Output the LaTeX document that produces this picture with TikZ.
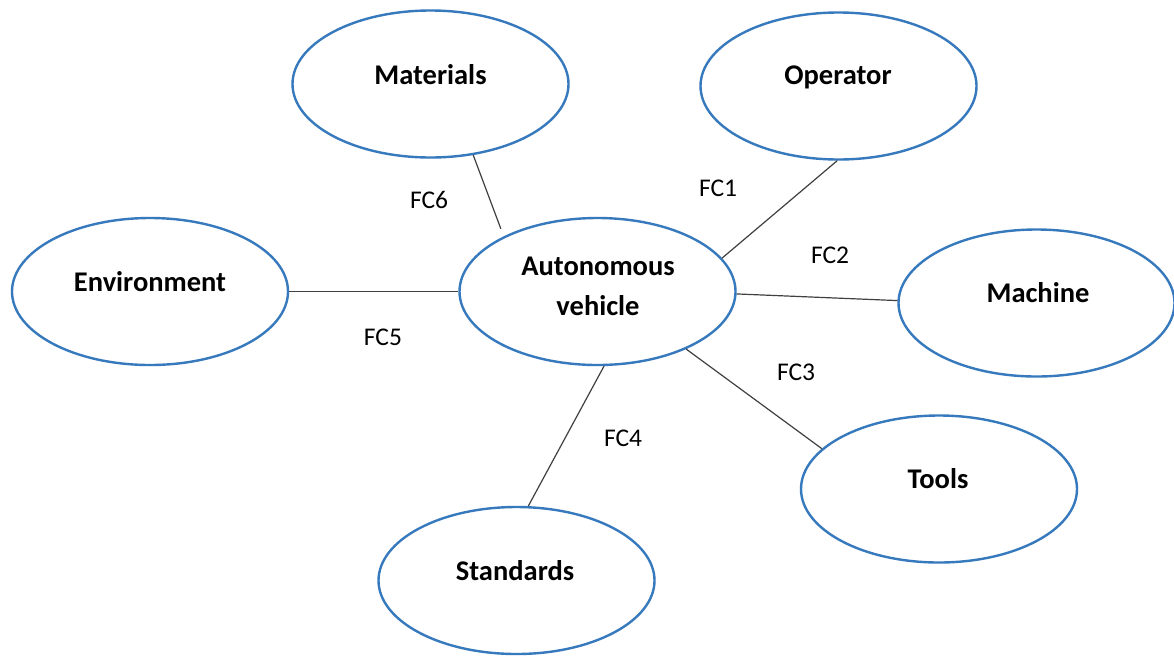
\documentclass[tikz,border=0pt]{standalone}
\usepackage{fontspec}
\setmainfont{Carlito}
\usetikzlibrary{shapes.geometric,calc}
\definecolor{ellblue}{RGB}{54,121,189}
\definecolor{connc}{RGB}{64,64,64}
\begin{document}
\begin{tikzpicture}[x=1pt,y=-1pt,
  ell/.style={ellipse,draw=ellblue,line width=2.4pt,minimum width=276pt,minimum height=147pt,inner sep=0pt},
  ttl/.style={anchor=base,font=\fontsize{28.5}{34}\selectfont\bfseries,inner sep=0pt},
  fc/.style={anchor=base,font=\fontsize{25.5}{30}\selectfont,inner sep=0pt},
  conn/.style={draw=connc,line width=1.2pt}]
\useasboundingbox (0,0) rectangle (1174,657);
\fill[white] (0,0) rectangle (1174,657);
% ellipses
\node[ell] (mat)   at (430.5,84)   {};
\node[ell] (op)    at (838.5,86)   {};
\node[ell] (env)   at (150,291.5)  {};
\node[ell] (av)    at (597.5,291.5){};
\node[ell] (mach)  at (1036.5,303) {};
\node[ell] (tools) at (939,489)    {};
\node[ell] (std)   at (516.5,580.5){};
% titles
\node[ttl] (tmat)   at (430.5,84.5){Materials};
\node[ttl] (top)    at (838,84.5)  {Operator};
\node[ttl] (tenv)   at (150,291.5) {Environment};
\node[ttl] (tav1)   at (598,275)   {Autonomous};
\node[ttl] (tav2)   at (598,315)   {vehicle};
\node[ttl] (tmach)  at (1038,302.5){Machine};
\node[ttl] (ttools) at (938,488)   {Tools};
\node[ttl] (tstd)   at (515,580)   {Standards};
% connectors
\coordinate (avmat) at ($(av.center)!1.09!(av.147.5)$);
\draw[conn] (mat.-59)  -- (avmat);
\draw[conn] (op.-91)   -- (av.15.4);
\draw[conn] (av.-1)    -- (mach.179.5);
\draw[conn] (av.-33.8) -- (tools.161.7);
\draw[conn] (av.-85)   -- (std.81.3);
\draw[conn] (env.-0.75) -- (av.180.75);
% labels
\node[fc] (fc6) at (429,208.3) {FC6};
\node[fc] (fc1) at (718,196.7) {FC1};
\node[fc] (fc2) at (830,263.3) {FC2};
\node[fc] (fc3) at (796,380)   {FC3};
\node[fc] (fc4) at (623,446.7) {FC4};
\node[fc] (fc5) at (383,345)   {FC5};
\end{tikzpicture}
\end{document}
